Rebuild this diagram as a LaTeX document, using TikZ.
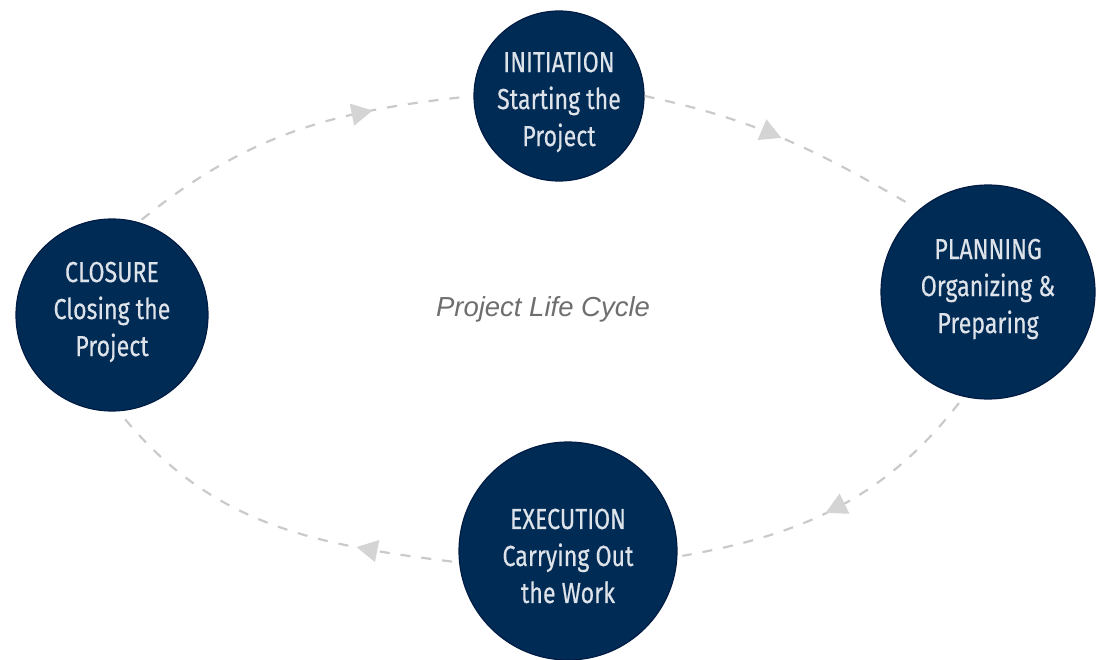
\documentclass[tikz,border=0pt]{standalone}
\usepackage{fontspec}
\setmainfont{Fira Sans}[FakeStretch=0.8,FakeBold=0.35]
\newfontfamily\labelfont{Liberation Sans}
\usetikzlibrary{arrows.meta,decorations.markings}
\definecolor{navy}{RGB}{0,43,85}
\definecolor{navyedge}{RGB}{0,28,68}
\definecolor{txtlight}{RGB}{222,227,234}
\definecolor{dashgray}{RGB}{202,202,202}
\definecolor{tipgray}{RGB}{212,212,212}
\definecolor{centregray}{RGB}{110,110,110}
\begin{document}
\begin{tikzpicture}[x=1pt,y=1pt,
  phase/.style={circle, fill=navy, draw=navyedge, line width=1.2pt, inner sep=0pt},
  phasetext/.style={inner sep=0pt, text=txtlight, align=center, font=\fontsize{29}{37}\selectfont},
  flow/.style={draw=dashgray, line width=2.2pt, dash pattern=on 10pt off 11pt},
  midarrow/.style={postaction={decorate}, decoration={markings,
    mark=at position #1 with {\arrow{Triangle[length=21pt,width=22pt,color=tipgray,fill=tipgray]}}}}
]
\useasboundingbox (0,0) rectangle (1099,-660);
\node[phase, minimum size=170pt] (ini) at (559,-96) {};
\node[phase, minimum size=214pt] (pla) at (988,-292) {};
\node[phase, minimum size=218pt] (exe) at (568,-551) {};
\node[phase, minimum size=192pt] (clo) at (112,-315) {};
\node[phasetext] (iniT) at ([yshift=-6pt]ini.center) {INITIATION\\Starting the\\Project};
\node[phasetext] (plaT) at ([yshift=3pt]pla.center) {PLANNING\\Organizing \&\\Preparing};
\node[phasetext] (exeT) at ([yshift=-5pt]exe.center) {EXECUTION\\Carrying Out\\the Work};
\node[phasetext] (cloT) at ([yshift=3pt]clo.center) {CLOSURE\\Closing the\\Project};
\node[font=\labelfont\itshape\fontsize{27.5}{30}\selectfont, text=centregray] (title) at (543,-309) {Project Life Cycle};

\draw[flow, midarrow=0.72, shorten <=4pt, shorten >=6pt] (clo.74) to[out=39,in=186] (ini.180);
\draw[flow, midarrow=0.48, shorten >=10pt] (ini.0) to[out=-12,in=150] (pla.130);
\draw[flow, midarrow=0.54, shorten <=8pt, shorten >=5pt] (pla.257) to[out=232,in=10] (exe.-3);
\draw[flow, midarrow=0.27, shorten <=7pt, shorten >=5pt] (exe.186) to[out=173,in=309] (clo.274);
\end{tikzpicture}
\end{document}
